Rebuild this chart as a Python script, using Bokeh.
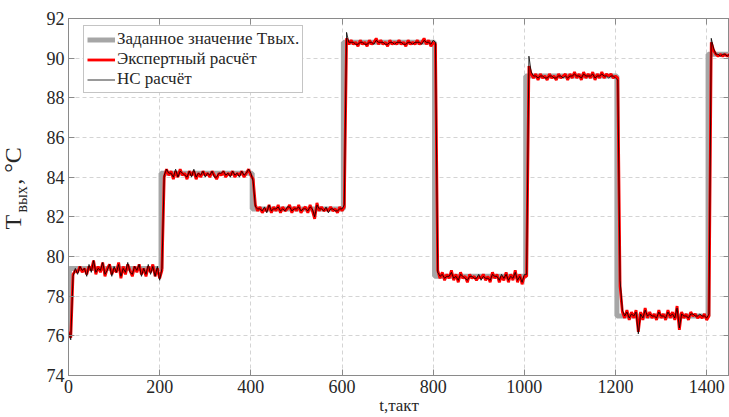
from math import pi
from bokeh.plotting import figure
from bokeh.models import (Range1d, FixedTicker, LinearAxis, Legend, LegendItem, Label,
                          CustomLabelingPolicy)
from bokeh.embed import file_html
from bokeh.resources import INLINE

STEP = 5

# Set value (gray step line)
sp_switch = [2, 203, 403, 603, 803, 1003, 1203, 1403]
sp_levels = [76.2, 79.4, 84.2, 82.4, 90.8, 79.0, 89.1, 77.0, 90.2]
t_end = 1450

# Expert calculation (red), sampled every 5 takts
red_a = [76.2, 75.9, 79.1, 79.3, 79.2, 79.5, 79.2, 79.4, 79.1, 79.5,
         79.3, 79.8, 79.1, 79.5, 79.2, 79.7, 79.0, 79.4, 79.6, 79.1,
         79.4, 79.2, 79.7, 78.9, 79.5, 79.1, 79.6, 79.3, 79.0, 79.5,
         79.2, 79.6, 79.1, 79.4, 79.0, 79.5, 79.2, 79.6, 79.0, 79.4,
         78.9]
red_b = [79.3, 84.0, 84.4, 84.1, 84.3, 83.9, 84.3, 84.0, 84.4, 84.1,
         84.2, 83.9, 84.3, 84.1, 84.3, 83.9, 84.2, 84.0, 84.3, 84.1,
         84.2, 84.0, 84.3, 84.1, 83.9, 84.2, 84.1, 84.3, 84.0, 84.2,
         84.1, 84.3, 84.0, 84.2, 84.1, 84.3, 84.0, 84.2, 84.4, 84.1]
red_c = [83.9, 82.6, 82.3, 82.5, 82.2, 82.4, 82.3, 82.6, 82.2, 82.5,
         82.3, 82.6, 82.2, 82.5, 82.3, 82.4, 82.6, 82.2, 82.5, 82.3,
         82.6, 82.2, 82.4, 82.5, 82.2, 82.6, 82.3, 81.9, 82.7, 82.3,
         82.5, 82.3, 82.4, 82.3, 82.5, 82.3, 82.4, 82.2, 82.5, 82.3]
red_d = [82.5, 91.0, 90.7, 90.9, 90.7, 90.8, 90.6, 90.9, 90.7, 90.8,
         90.6, 90.9, 90.7, 90.8, 91.0, 90.7, 90.9, 90.7, 90.8, 90.6,
         90.9, 90.7, 90.8, 90.7, 90.9, 90.7, 90.8, 90.6, 90.9, 90.7,
         90.8, 90.7, 90.9, 90.7, 90.8, 91.0, 90.7, 90.9, 90.6, 90.8]
red_e = [90.7, 79.3, 78.9, 79.2, 78.8, 79.1, 78.9, 79.3, 78.8, 79.1,
         78.7, 79.2, 78.9, 79.0, 78.7, 79.1, 78.9, 79.0, 78.8, 79.0,
         78.9, 79.1, 78.8, 79.0, 78.7, 79.2, 78.9, 79.1, 78.7, 79.0,
         78.8, 79.2, 78.7, 79.1, 78.8, 79.3, 78.7, 79.1, 78.6, 79.0]
red_f = [79.0, 89.6, 89.2, 89.0, 89.2, 88.9, 89.2, 89.0, 89.1, 88.9,
         89.2, 89.0, 89.1, 88.9, 89.2, 89.0, 89.1, 89.2, 88.9, 89.2,
         89.0, 89.3, 89.0, 89.2, 88.9, 89.3, 89.0, 89.2, 89.0, 89.3,
         88.9, 89.2, 89.0, 89.3, 89.0, 89.2, 89.1, 89.2, 89.0, 89.1]
red_g = [89.0, 78.5, 77.2, 76.9, 77.3, 76.8, 77.2, 76.9, 77.3, 76.2,
         77.2, 76.8, 77.4, 76.9, 77.2, 76.9, 77.1, 76.8, 77.3, 76.9,
         77.1, 76.8, 77.3, 76.9, 77.2, 76.8, 77.5, 76.3, 77.2, 76.9,
         77.1, 76.8, 77.2, 77.0, 77.1, 76.9, 77.0, 76.9, 77.1, 76.8]
red_h = [77.0, 90.8, 90.4, 90.2, 90.1, 90.2, 90.1, 90.2, 90.1, 90.2]

# Neural-network calculation (black), sampled every 5 takts
nn_a = [76.2, 75.8, 79.0, 79.4, 79.1, 79.5, 79.3, 79.4, 79.0, 79.6,
        79.2, 79.8, 79.2, 79.4, 79.3, 79.7, 79.1, 79.3, 79.6, 79.0,
        79.5, 79.2, 79.6, 79.0, 79.4, 79.2, 79.7, 79.2, 79.1, 79.5,
        79.3, 79.6, 79.0, 79.4, 79.1, 79.6, 79.1, 79.5, 79.0, 79.5,
        78.8]
nn_b = [79.4, 84.1, 84.4, 84.2, 84.2, 84.0, 84.4, 84.0, 84.3, 84.2,
        84.1, 84.0, 84.3, 84.0, 84.4, 84.0, 84.2, 84.1, 84.3, 84.0,
        84.2, 84.1, 84.3, 84.0, 84.0, 84.2, 84.2, 84.3, 84.1, 84.2,
        84.0, 84.3, 84.1, 84.2, 84.0, 84.3, 84.1, 84.2, 84.4, 84.2]
nn_c = [83.8, 82.5, 82.4, 82.4, 82.3, 82.5, 82.2, 82.6, 82.3, 82.4,
        82.4, 82.5, 82.3, 82.4, 82.3, 82.5, 82.5, 82.3, 82.4, 82.4,
        82.5, 82.3, 82.4, 82.4, 82.3, 82.5, 82.4, 82.0, 82.6, 82.4,
        82.4, 82.3, 82.5, 82.2, 82.4, 82.4, 82.3, 82.3, 82.4, 82.4]
nn_d = [82.6, 91.3, 90.8, 90.8, 90.8, 90.7, 90.7, 90.8, 90.8, 90.7,
        90.7, 90.8, 90.8, 90.7, 90.9, 90.8, 90.8, 90.8, 90.7, 90.7,
        90.8, 90.8, 90.7, 90.8, 90.8, 90.8, 90.7, 90.7, 90.8, 90.8,
        90.7, 90.8, 90.8, 90.8, 90.7, 90.9, 90.8, 90.8, 90.7, 90.9]
nn_e = [90.8, 79.2, 79.0, 79.1, 78.9, 79.0, 79.0, 79.2, 78.9, 79.0,
        78.8, 79.1, 79.0, 78.9, 78.8, 79.0, 79.0, 78.9, 78.9, 79.1,
        78.8, 79.0, 78.9, 78.9, 78.8, 79.1, 79.0, 79.0, 78.8, 79.1,
        78.9, 79.1, 78.8, 79.0, 78.9, 79.2, 78.8, 79.0, 78.7, 79.1]
nn_f = [79.1, 90.1, 89.3, 89.1, 89.1, 89.0, 89.1, 89.1, 89.0, 89.0,
        89.1, 89.1, 89.0, 89.0, 89.1, 89.1, 89.0, 89.1, 89.0, 89.1,
        89.1, 89.2, 89.1, 89.1, 89.0, 89.2, 89.1, 89.1, 89.1, 89.2,
        89.0, 89.1, 89.1, 89.2, 89.1, 89.1, 89.0, 89.1, 89.1, 89.0]
nn_g = [88.9, 78.8, 77.3, 77.0, 77.2, 76.9, 77.1, 77.0, 77.2, 76.1,
        77.1, 76.9, 77.3, 77.0, 77.1, 77.0, 77.0, 76.9, 77.2, 77.0,
        77.0, 76.9, 77.2, 77.0, 77.1, 76.9, 77.4, 76.4, 77.1, 77.0,
        77.0, 76.9, 77.1, 77.1, 77.0, 77.0, 77.1, 77.0, 77.0, 76.9]
nn_h = [77.1, 91.0, 90.5, 90.2, 90.2, 90.1, 90.2, 90.2, 90.1, 90.2]

x_ticks = [0, 200, 400, 600, 800, 1000, 1200, 1400]
y_ticks = [74, 76, 78, 80, 82, 84, 86, 88, 90, 92]

red = red_a + red_b + red_c + red_d + red_e + red_f + red_g + red_h
nn = nn_a + nn_b + nn_c + nn_d + nn_e + nn_f + nn_g + nn_h
t_red = [STEP * i for i in range(len(red))]
t_nn = [STEP * i for i in range(len(nn))]
sp_x = [0] + sp_switch + [t_end]
sp_y = sp_levels + [sp_levels[-1]]

FONT = "Times New Roman"
AX = "#8a8a8a"
TXT = "#262626"

p = figure(width=729, height=417, output_backend="svg", toolbar_location=None,
           x_range=Range1d(0, 1450), y_range=Range1d(74, 92),
           min_border_left=66, min_border_right=0, min_border_top=18,
           min_border_bottom=41)
p.background_fill_color = "white"
p.border_fill_color = "white"
p.outline_line_color = AX
p.outline_line_width = 1

r_sp = p.step(sp_x, sp_y, mode="after", line_color="#a6a6a6", line_width=5)
r_red = p.line(t_red, red, line_color="#ff0000", line_width=2.8)
r_nn = p.line(t_nn, nn, line_color="#000000", line_width=0.8)

for ax, ticks in ((p.xaxis[0], x_ticks), (p.yaxis[0], y_ticks)):
    ax.ticker = FixedTicker(ticks=ticks)
    ax.axis_line_color = AX
    ax.major_tick_line_color = AX
    ax.major_tick_in = 6
    ax.major_tick_out = 0
    ax.minor_tick_line_color = None
    ax.major_label_text_font = FONT
    ax.major_label_text_font_style = "normal"
    ax.major_label_text_font_size = "18px"
    ax.major_label_text_color = TXT
    ax.major_label_standoff = 4

# x axis title
p.xaxis[0].axis_label = "t,такт"
p.xaxis[0].axis_label_text_font = FONT
p.xaxis[0].axis_label_text_font_style = "normal"
p.xaxis[0].axis_label_text_font_size = "17px"
p.xaxis[0].axis_label_text_color = TXT
p.xaxis[0].axis_label_standoff = 0

# box axes on the top and right: inward ticks only, no labels
no_labels = CustomLabelingPolicy(code="for (const i of indices) { indices.unset(i) } return indices")
for side, ticks in (("right", y_ticks), ("above", x_ticks)):
    a = LinearAxis(ticker=FixedTicker(ticks=ticks), axis_line_color=AX,
                   major_tick_line_color=AX, major_tick_in=6, major_tick_out=0,
                   minor_tick_line_color=None, major_label_text_font_size="0px",
                   major_label_standoff=0, major_label_policy=no_labels)
    p.add_layout(a, side)

for g, ticks in ((p.xgrid[0], x_ticks), (p.ygrid[0], y_ticks)):
    g.ticker = FixedTicker(ticks=ticks)
    g.grid_line_color = "#d4d4d4"
    g.grid_line_dash = "4 3"
    g.grid_line_width = 1

legend = Legend(items=[
    LegendItem(label="Заданное значение Tвых.", renderers=[r_sp]),
    LegendItem(label="Экспертный расчёт", renderers=[r_red]),
    LegendItem(label="НС расчёт", renderers=[r_nn]),
], location=(15, 282))
legend.label_text_font = FONT
legend.label_text_font_style = "normal"
legend.label_text_font_size = "17px"
legend.label_text_color = TXT
legend.border_line_color = AX
legend.border_line_width = 1
legend.background_fill_alpha = 1
legend.padding = 3
legend.spacing = 0
legend.label_height = 19
legend.glyph_height = 19
legend.glyph_width = 28
legend.label_standoff = 2
legend.margin = 0
p.add_layout(legend, "center")

# y axis title: "T" ... ", °C" with subscript "вых" in the gap
NB = "\u00a0"
common = dict(x_units="screen", y_units="screen", angle=pi / 2,
              text_font=FONT, text_color=TXT, text_baseline="alphabetic",
              text_align="left")
p.add_layout(Label(x=-5, y=146, text="T" + NB * 5 + ", °C",
                   text_font_size="24px", **common), "left")
p.add_layout(Label(x=21, y=163, text="вых", text_font_size="16px", **common), "left")

open("out.html", "w").write(file_html(p, INLINE))
